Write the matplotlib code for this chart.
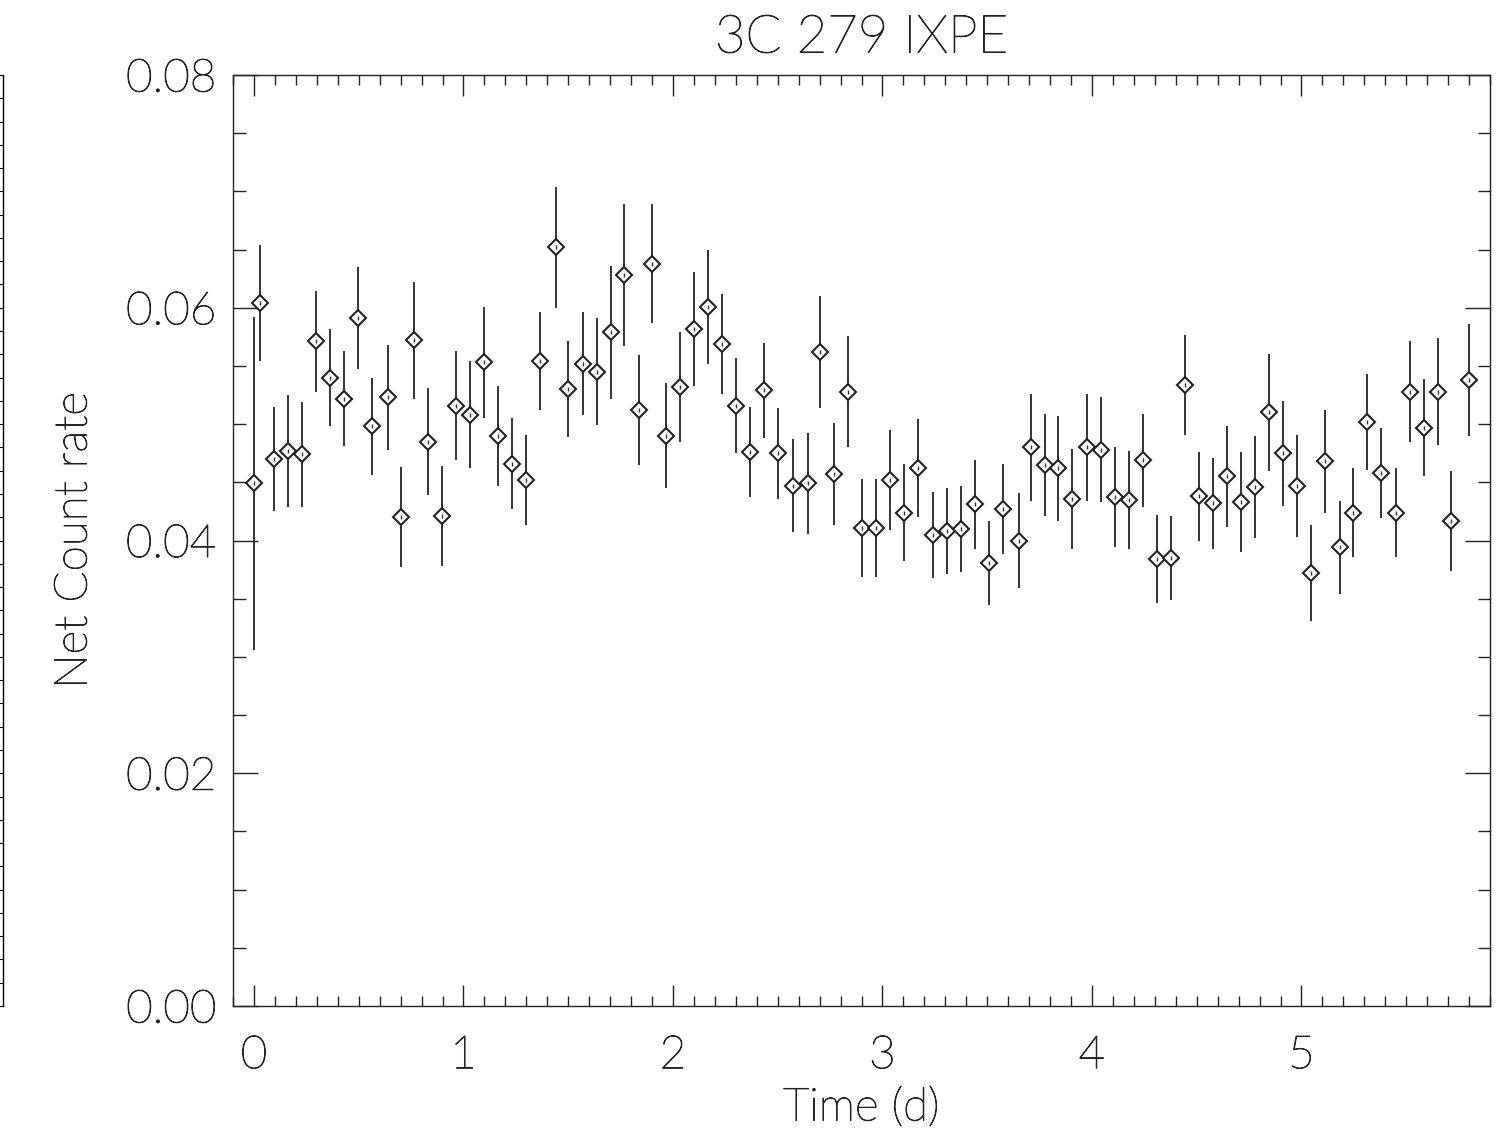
import matplotlib

matplotlib.use("Agg")
import matplotlib.pyplot as plt
import matplotlib.patheffects as pe
from matplotlib.ticker import FixedLocator, MultipleLocator, FormatStrFormatter

# light-curve bins (time in days, net count rate)
time_d = [
    0.000, 0.029, 0.095, 0.162, 0.229, 0.296, 0.362, 0.429, 0.496, 0.564,
    0.639, 0.700, 0.765, 0.831, 0.898, 0.963, 1.033, 1.098, 1.167, 1.234,
    1.300, 1.367, 1.440, 1.499, 1.570, 1.637, 1.702, 1.768, 1.838, 1.901,
    1.968, 2.035, 2.100, 2.168, 2.233, 2.302, 2.369, 2.435, 2.502, 2.572,
    2.645, 2.702, 2.769, 2.836, 2.904, 2.971, 3.038, 3.105, 3.171, 3.240,
    3.306, 3.373, 3.440, 3.507, 3.575, 3.650, 3.708, 3.774, 3.840, 3.907,
    3.974, 4.042, 4.109, 4.176, 4.243, 4.311, 4.379, 4.444, 4.511, 4.578,
    4.646, 4.713, 4.780, 4.845, 4.912, 4.980, 5.047, 5.114, 5.182, 5.247,
    5.314, 5.382, 5.449, 5.517, 5.585, 5.651, 5.716, 5.802,
]
rate = [
    0.0449, 0.0604, 0.0470, 0.0477, 0.0474, 0.0571, 0.0540, 0.0522, 0.0591, 0.0498,
    0.0523, 0.0420, 0.0572, 0.0485, 0.0421, 0.0516, 0.0508, 0.0553, 0.0490, 0.0466,
    0.0452, 0.0554, 0.0652, 0.0530, 0.0552, 0.0545, 0.0579, 0.0628, 0.0512, 0.0638,
    0.0490, 0.0532, 0.0582, 0.0601, 0.0569, 0.0516, 0.0476, 0.0529, 0.0475, 0.0447,
    0.0449, 0.0562, 0.0457, 0.0528, 0.0411, 0.0411, 0.0452, 0.0424, 0.0462, 0.0405,
    0.0408, 0.0410, 0.0431, 0.0381, 0.0427, 0.0400, 0.0480, 0.0465, 0.0462, 0.0436,
    0.0480, 0.0478, 0.0437, 0.0435, 0.0469, 0.0384, 0.0385, 0.0534, 0.0438, 0.0432,
    0.0455, 0.0433, 0.0446, 0.0510, 0.0475, 0.0447, 0.0372, 0.0468, 0.0394, 0.0424,
    0.0502, 0.0458, 0.0424, 0.0528, 0.0497, 0.0528, 0.0417, 0.0538,
]
rate_err = [
    0.0143, 0.0050, 0.0045, 0.0048, 0.0045, 0.0043, 0.0042, 0.0041, 0.0044, 0.0042,
    0.0045, 0.0043, 0.0050, 0.0046, 0.0043, 0.0047, 0.0046, 0.0048, 0.0043, 0.0039,
    0.0039, 0.0042, 0.0052, 0.0041, 0.0044, 0.0046, 0.0057, 0.0061, 0.0047, 0.0051,
    0.0045, 0.0047, 0.0049, 0.0049, 0.0043, 0.0041, 0.0039, 0.0041, 0.0039, 0.0040,
    0.0043, 0.0048, 0.0044, 0.0048, 0.0042, 0.0042, 0.0043, 0.0042, 0.0042, 0.0037,
    0.0037, 0.0037, 0.0038, 0.0036, 0.0039, 0.0041, 0.0046, 0.0044, 0.0045, 0.0043,
    0.0046, 0.0045, 0.0043, 0.0042, 0.0040, 0.0038, 0.0036, 0.0043, 0.0038, 0.0039,
    0.0043, 0.0043, 0.0044, 0.0050, 0.0045, 0.0044, 0.0041, 0.0044, 0.0040, 0.0038,
    0.0041, 0.0039, 0.0038, 0.0043, 0.0042, 0.0046, 0.0043, 0.0048,
]

x_major = [0, 1, 2, 3, 4, 5]
y_major = [0.00, 0.02, 0.04, 0.06, 0.08]

FONT = ["Lato", "DejaVu Sans"]
INK = "#222222"
FS = 33
# thin "vector font" look: light face with a hairline stroke to darken it
THIN = [pe.withStroke(linewidth=0.7, foreground=INK)]

fig = plt.figure(figsize=(15.02, 11.32), dpi=100)
W, H = 1502, 1132
ax = fig.add_axes([233 / W, 1 - 1006 / H, (1490 - 233) / W, (1006 - 75) / H])

ax.errorbar(time_d, rate, yerr=rate_err, fmt="none", ecolor="#333333",
            elinewidth=1.4, capsize=0, zorder=2)
ax.plot(time_d, rate, linestyle="none", marker="D", ms=8, mfc="white",
        mec="#222222", mew=1.5, zorder=3)
ax.plot(time_d, rate, linestyle="none", marker="|", ms=3, mew=1, color="#333333", zorder=4)

ax.set_xlim(-0.1, 5.9)
ax.set_ylim(0.0, 0.08)
ax.xaxis.set_major_locator(FixedLocator(x_major))
ax.xaxis.set_minor_locator(MultipleLocator(0.1))
ax.yaxis.set_major_locator(FixedLocator(y_major))
ax.yaxis.set_minor_locator(MultipleLocator(0.005))
ax.yaxis.set_major_formatter(FormatStrFormatter("%.2f"))
ax.xaxis.set_major_formatter(FormatStrFormatter("%d"))

ax.tick_params(which="both", direction="in", top=True, right=True, color=INK, width=1)
ax.tick_params(axis="x", which="major", length=15, pad=21, labelsize=FS)
ax.tick_params(axis="x", which="minor", length=7.5)
ax.tick_params(axis="y", which="major", length=18, pad=12, labelsize=FS)
ax.tick_params(axis="y", which="minor", length=9)
for lab in ax.get_xticklabels() + ax.get_yticklabels():
    lab.set_family(FONT)
    lab.set_fontweight("light")
    lab.set_color(INK)
    lab.set_path_effects(THIN)
for sp in ax.spines.values():
    sp.set_linewidth(1.0)
    sp.set_color(INK)

txt = dict(family=FONT, fontweight="light", color=INK, path_effects=THIN)
fig.text(861.5 / W, 1 - 38 / H, "3C 279 IXPE", ha="center", va="center",
         fontsize=38, **txt)
fig.text(861.5 / W, 1 - 1108 / H, "Time (d)", ha="center", va="center",
         fontsize=FS, **txt)
fig.text(74 / W, 1 - 540 / H, "Net Count rate", ha="center", va="center",
         rotation=90, fontsize=FS, **txt)

# edge of a neighbouring panel, cut off at the left border
side = fig.add_axes([-0.05, 1 - 1006 / H, 0.05 + 3 / W, (1006 - 75) / H])
side.set_ylim(0, 40)
for k in ("left", "top", "bottom"):
    side.spines[k].set_visible(False)
side.spines["right"].set_linewidth(1.0)
side.set_xticks([])
side.yaxis.tick_right()
side.yaxis.set_major_locator(MultipleLocator(1))
side.tick_params(axis="y", direction="in", length=3, labelright=False)
side.patch.set_alpha(0)

fig.savefig("out.png", dpi=100)
plt.close(fig)
